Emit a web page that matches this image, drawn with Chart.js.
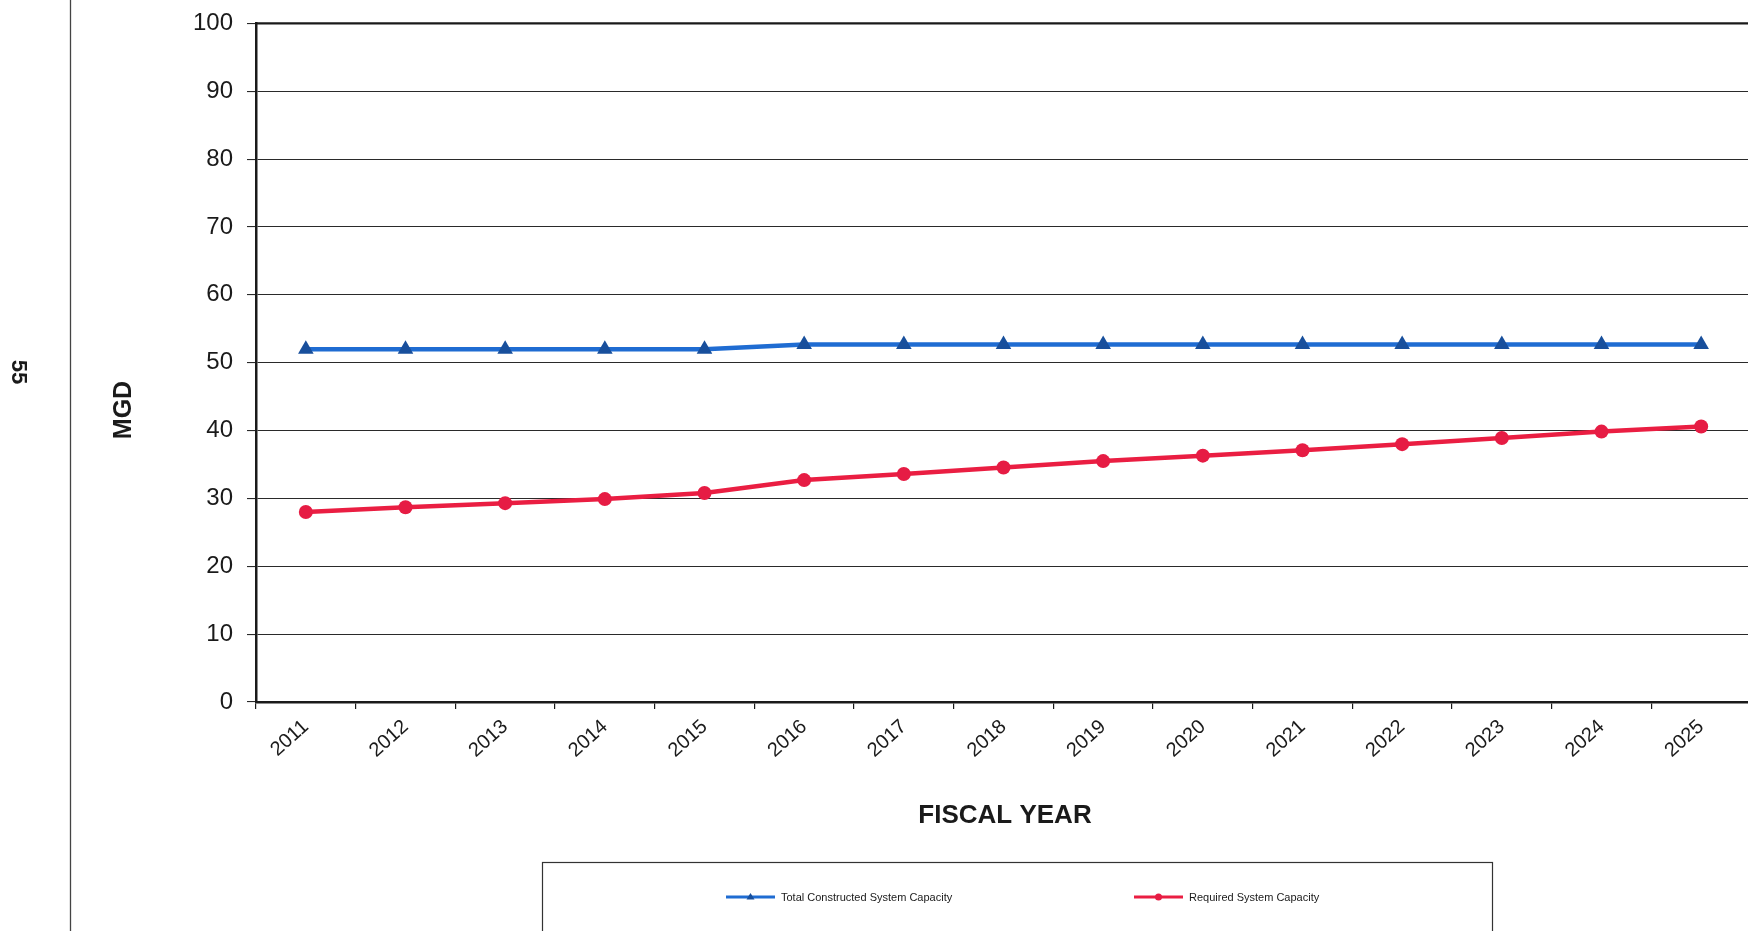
<!DOCTYPE html>
<html>
<head>
<meta charset="utf-8">
<title>System Capacity vs Required Capacity</title>
<script src="https://cdn.jsdelivr.net/npm/chart.js@4.4.1/dist/chart.umd.min.js"></script>
<style>
  html, body { margin: 0; padding: 0; background: #fff; overflow: hidden; }
  #wrap { position: relative; width: 1760px; height: 931px; }
</style>
</head>
<body>
<div id="wrap"><canvas id="capacity-chart" width="1760" height="931"></canvas></div>
<script>
// fiscal years on the category axis
const years = ['2011', '2012', '2013', '2014', '2015', '2016', '2017', '2018',
               '2019', '2020', '2021', '2022', '2023', '2024', '2025'];

// MGD values per year
const constructedCapacity = [52.0, 52.0, 52.0, 52.0, 52.0, 52.7, 52.7, 52.7,
                             52.7, 52.7, 52.7, 52.7, 52.7, 52.7, 52.7];
const requiredCapacity    = [28.0, 28.7, 29.3, 29.9, 30.8, 32.7, 33.6, 34.55,
                             35.5, 36.3, 37.1, 38.0, 38.9, 39.85, 40.6];

// value axis
const yMin = 0, yMax = 100, yStep = 10;

const FONT = '"Liberation Sans", Arial, Helvetica, sans-serif';
const INK  = '#1a1a1a';

// ── page furniture: margin rule, page number, axis titles, boxed legend ──
const pageDecor = {
  id: 'pageDecor',
  afterDraw(chart) {
    const ctx = chart.ctx;
    ctx.save();

    // margin rule
    ctx.strokeStyle = '#444';
    ctx.lineWidth = 1.3;
    ctx.beginPath(); ctx.moveTo(70.5, 0); ctx.lineTo(70.5, 931); ctx.stroke();

    ctx.fillStyle = INK;
    ctx.textAlign = 'center';
    ctx.textBaseline = 'middle';

    // page number
    ctx.save();
    ctx.translate(18, 372);
    ctx.rotate(Math.PI / 2);
    ctx.font = 'bold 22px ' + FONT;
    ctx.fillText('55', 0, 0);
    ctx.restore();

    // y title
    ctx.save();
    ctx.translate(124, 410);
    ctx.rotate(-Math.PI / 2);
    ctx.font = 'bold 25px ' + FONT;
    ctx.fillText('MGD', 0, 0);
    ctx.restore();

    // x title
    ctx.font = 'bold 26px ' + FONT;
    ctx.fillText('FISCAL YEAR', 1005, 816);

    // legend frame (runs off the bottom)
    ctx.strokeStyle = '#333';
    ctx.lineWidth = 1.2;
    ctx.strokeRect(542.5, 862.5, 950, 90);

    const slots = [726, 1134];
    ctx.font = '11px ' + FONT;
    ctx.textAlign = 'left';
    chart.data.datasets.forEach((ds, i) => {
      const x0 = slots[i], y = 897;
      ctx.strokeStyle = ds.borderColor;
      ctx.lineWidth = 3;
      ctx.beginPath(); ctx.moveTo(x0, y); ctx.lineTo(x0 + 49, y); ctx.stroke();
      ctx.fillStyle = ds.pointBackgroundColor;
      ctx.beginPath();
      if (ds.pointStyle === 'triangle') {
        ctx.moveTo(x0 + 24.5, y - 4); ctx.lineTo(x0 + 28.5, y + 2.5); ctx.lineTo(x0 + 20.5, y + 2.5);
      } else {
        ctx.arc(x0 + 24.5, y, 3.5, 0, Math.PI * 2);
      }
      ctx.closePath();
      ctx.fill();
      ctx.fillStyle = INK;
      ctx.fillText(ds.label, x0 + 55, y + 1);
    });

    // top frame edge
    const a = chart.chartArea;
    ctx.strokeStyle = INK;
    ctx.lineWidth = 2.2;
    ctx.beginPath(); ctx.moveTo(a.left, a.top); ctx.lineTo(a.right, a.top); ctx.stroke();

    ctx.restore();
  }
};

new Chart(document.getElementById('capacity-chart'), {
  type: 'line',
  data: {
    labels: years,
    datasets: [
      {
        label: 'Total Constructed System Capacity',
        data: constructedCapacity,
        borderColor: '#1f6cd2',
        borderWidth: 4.5,
        pointStyle: 'triangle',
        pointRadius: 9,
        pointBorderWidth: 0,
        pointBackgroundColor: '#184f9c',
        pointBorderColor: '#184f9c',
        tension: 0,
        fill: false,
      },
      {
        label: 'Required System Capacity',
        data: requiredCapacity,
        borderColor: '#ea1e42',
        borderWidth: 4.5,
        pointStyle: 'circle',
        pointRadius: 7,
        pointBorderWidth: 0,
        pointBackgroundColor: '#e61c44',
        pointBorderColor: '#e61c44',
        tension: 0,
        fill: false,
      },
    ],
  },
  options: {
    responsive: false,
    animation: false,
    devicePixelRatio: 1,
    layout: { padding: { top: 23.4, right: 0, bottom: 0, left: 0 } },
    plugins: {
      legend: { display: false },
      tooltip: { enabled: false },
    },
    scales: {
      x: {
        type: 'category',
        offset: true,
        border: { display: true, color: INK, width: 2.5 },
        grid: { offset: true, drawOnChartArea: false, drawTicks: true, tickLength: 7, color: INK, lineWidth: 1.2 },
        ticks: {
          autoSkip: false,
          minRotation: 42,
          maxRotation: 42,
          padding: 6,
          color: INK,
          font: { family: FONT, size: 20 },
        },
        afterFit(scale) { scale.height = 931 - 702; },
      },
      y: {
        min: yMin,
        max: yMax,
        border: { display: true, color: INK, width: 2.5 },
        grid: {
          color: '#2a2a2a',
          lineWidth: 1.1,
          drawTicks: true,
          tickLength: 9,
        },
        ticks: {
          stepSize: yStep,
          padding: 14,
          color: INK,
          font: { family: FONT, size: 24 },
        },
        afterFit(scale) {
          scale.width = 256;
          // let the outer layout padding alone decide where the plot starts
          scale.paddingTop = 0;
          scale.paddingBottom = 0;
        },
      },
    },
  },
  plugins: [pageDecor],
});
</script>
</body>
</html>
